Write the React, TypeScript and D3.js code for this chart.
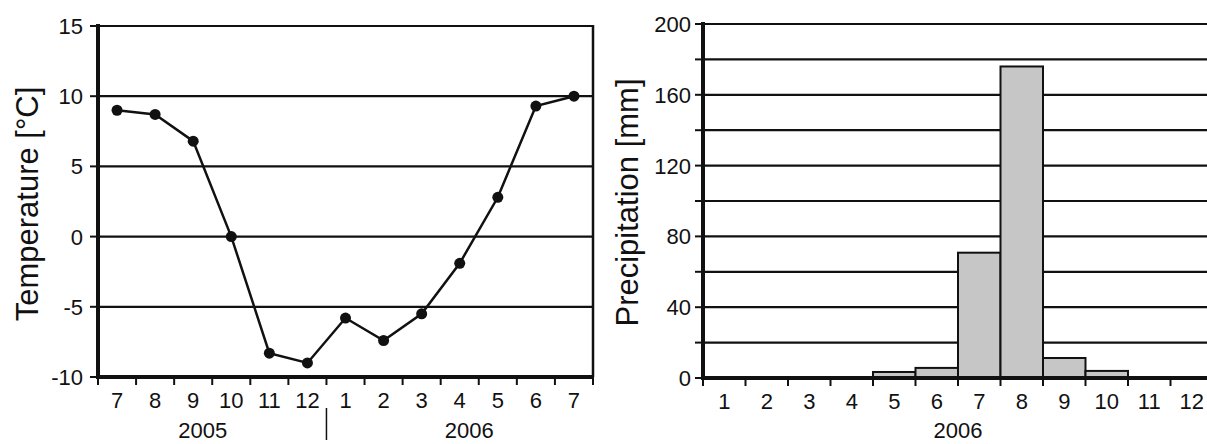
import React, { useEffect, useRef } from 'react';
import * as d3 from 'd3';

// temperature, Jul 2005 - Jul 2006
const tempMonths = ['7', '8', '9', '10', '11', '12', '1', '2', '3', '4', '5', '6', '7'];
const tempValues = [9.0, 8.7, 6.8, 0, -8.3, -9.0, -5.8, -7.4, -5.5, -1.9, 2.8, 9.3, 10.0];
const tempTicks = [-10, -5, 0, 5, 10, 15];
const tempYears = [
  { label: '2005', at: 2.75 },
  { label: '2006', at: 9.75 },
];

// precipitation, 2006
const precipMonths = ['1', '2', '3', '4', '5', '6', '7', '8', '9', '10', '11', '12'];
const precipValues = [0, 0, 0, 0, 3.4, 5.7, 70.8, 176, 11.3, 4, 0, 0];
const precipTicks = [0, 40, 80, 120, 160, 200];
const precipGrid = [20, 40, 60, 80, 100, 120, 140, 160, 180, 200];
const precipYear = '2006';

const W = 1207;
const H = 444;
const FONT = '"Liberation Sans", Arial, sans-serif';
const INK = '#111';

const App = () => {
  const ref = useRef<SVGSVGElement>(null);

  useEffect(() => {
    const svg = d3.select(ref.current);
    svg.selectAll('*').remove();
    drawTemperature(svg.append('g'));
    drawPrecip(svg.append('g'));
  }, []);

  function drawTemperature(g: any) {
    const x = d3.scaleBand<number>()
      .domain(d3.range(tempMonths.length))
      .range([98, 593])
      .padding(0);
    const y = d3.scaleLinear().domain([-10, 15]).range([377, 26]);
    const bw = x.bandwidth();
    const frac = d3.scaleLinear().domain([0, tempMonths.length]).range(x.range());

    // gridlines
    g.selectAll('line.grid')
      .data(tempTicks.filter((t) => t > -10))
      .enter()
      .append('line')
      .attr('x1', 98).attr('x2', 593)
      .attr('y1', (d) => y(d)).attr('y2', (d) => y(d))
      .attr('stroke', INK).attr('stroke-width', 2.2);

    // right border
    g.append('line')
      .attr('x1', 593).attr('x2', 593)
      .attr('y1', y(15) - 1).attr('y2', y(-10))
      .attr('stroke', INK).attr('stroke-width', 2.5);

    // y ticks + labels
    g.selectAll('line.yt')
      .data(tempTicks)
      .enter()
      .append('line')
      .attr('x1', 90).attr('x2', 98)
      .attr('y1', (d) => y(d)).attr('y2', (d) => y(d))
      .attr('stroke', INK).attr('stroke-width', 2);
    g.selectAll('text.yl')
      .data(tempTicks)
      .enter()
      .append('text')
      .attr('x', 83)
      .attr('y', (d) => y(d) + 8)
      .attr('text-anchor', 'end')
      .style('font-size', '22px')
      .style('font-family', FONT)
      .style('fill', INK)
      .text((d) => d);

    // x ticks + labels
    g.selectAll('line.xt')
      .data(d3.range(tempMonths.length + 1))
      .enter()
      .append('line')
      .attr('x1', (d) => frac(d)).attr('x2', (d) => frac(d))
      .attr('y1', 377).attr('y2', 385)
      .attr('stroke', INK).attr('stroke-width', 2);
    g.selectAll('text.xl')
      .data(tempMonths)
      .enter()
      .append('text')
      .attr('x', (_, i) => x(i) + bw / 2)
      .attr('y', 408)
      .attr('text-anchor', 'middle')
      .style('font-size', '22px')
      .style('font-family', FONT)
      .style('fill', INK)
      .text((d) => d);

    // year separator + labels
    g.append('line')
      .attr('x1', frac(6)).attr('x2', frac(6))
      .attr('y1', 408).attr('y2', 440)
      .attr('stroke', INK).attr('stroke-width', 1.5);
    g.selectAll('text.yr')
      .data(tempYears)
      .enter()
      .append('text')
      .attr('x', (d) => frac(d.at))
      .attr('y', 438)
      .attr('text-anchor', 'middle')
      .style('font-size', '22px')
      .style('font-family', FONT)
      .style('fill', INK)
      .text((d) => d.label);

    // axes
    g.append('line')
      .attr('x1', 98).attr('x2', 98).attr('y1', 24).attr('y2', 379)
      .attr('stroke', INK).attr('stroke-width', 4);
    g.append('line')
      .attr('x1', 96).attr('x2', 594).attr('y1', 377).attr('y2', 377)
      .attr('stroke', INK).attr('stroke-width', 4);

    // line + points
    const line = d3.line<number>()
      .x((_, i) => x(i) + bw / 2)
      .y((d) => y(d));
    g.append('path')
      .datum(tempValues)
      .attr('d', line)
      .attr('fill', 'none')
      .attr('stroke', INK)
      .attr('stroke-width', 2.5);
    g.selectAll('circle')
      .data(tempValues)
      .enter()
      .append('circle')
      .attr('cx', (_, i) => x(i) + bw / 2)
      .attr('cy', (d) => y(d))
      .attr('r', 5.5)
      .attr('fill', INK);

    // axis title
    g.append('text')
      .attr('transform', `translate(38, ${(78 + 330) / 2}) rotate(-90)`)
      .attr('text-anchor', 'middle')
      .style('font-size', '31px')
      .style('font-family', FONT)
      .style('fill', INK)
      .text('Temperature [°C]');
  }

  function drawPrecip(g: any) {
    const x = d3.scaleBand<string>()
      .domain(precipMonths)
      .range([703, 1213])
      .padding(0);
    const y = d3.scaleLinear().domain([0, 200]).range([378, 24]);
    const bw = x.bandwidth();

    // gridlines
    g.selectAll('line.grid')
      .data(precipGrid)
      .enter()
      .append('line')
      .attr('x1', 703).attr('x2', W)
      .attr('y1', (d) => y(d)).attr('y2', (d) => y(d))
      .attr('stroke', INK).attr('stroke-width', 2.2);

    // bars
    g.selectAll('rect')
      .data(precipValues)
      .enter()
      .append('rect')
      .attr('x', (_, i) => x(precipMonths[i]))
      .attr('y', (d) => y(d))
      .attr('width', bw)
      .attr('height', (d) => y(0) - y(d))
      .attr('fill', '#c6c6c6')
      .attr('stroke', INK)
      .attr('stroke-width', 2);

    // y ticks (major + minor) + labels
    g.selectAll('line.yt')
      .data([0, ...precipGrid])
      .enter()
      .append('line')
      .attr('x1', 695).attr('x2', 703)
      .attr('y1', (d) => y(d)).attr('y2', (d) => y(d))
      .attr('stroke', INK).attr('stroke-width', 2);
    g.selectAll('text.yl')
      .data(precipTicks)
      .enter()
      .append('text')
      .attr('x', 691)
      .attr('y', (d) => y(d) + 8)
      .attr('text-anchor', 'end')
      .style('font-size', '22px')
      .style('font-family', FONT)
      .style('fill', INK)
      .text((d) => d);

    // x ticks + labels
    g.selectAll('line.xt')
      .data(d3.range(precipMonths.length + 1))
      .enter()
      .append('line')
      .attr('x1', (d) => 703 + d * bw).attr('x2', (d) => 703 + d * bw)
      .attr('y1', 378).attr('y2', 386)
      .attr('stroke', INK).attr('stroke-width', 2);
    g.selectAll('text.xl')
      .data(precipMonths)
      .enter()
      .append('text')
      .attr('x', (d) => x(d) + bw / 2)
      .attr('y', 409)
      .attr('text-anchor', 'middle')
      .style('font-size', '22px')
      .style('font-family', FONT)
      .style('fill', INK)
      .text((d) => d);

    g.append('text')
      .attr('x', 703 + 6 * bw)
      .attr('y', 438)
      .attr('text-anchor', 'middle')
      .style('font-size', '22px')
      .style('font-family', FONT)
      .style('fill', INK)
      .text(precipYear);

    // axes
    g.append('line')
      .attr('x1', 703).attr('x2', 703).attr('y1', 22).attr('y2', 380)
      .attr('stroke', INK).attr('stroke-width', 4);
    g.append('line')
      .attr('x1', 701).attr('x2', W).attr('y1', 378).attr('y2', 378)
      .attr('stroke', INK).attr('stroke-width', 4);

    g.append('text')
      .attr('transform', `translate(638, ${(77 + 328) / 2}) rotate(-90)`)
      .attr('text-anchor', 'middle')
      .style('font-size', '31px')
      .style('font-family', FONT)
      .style('fill', INK)
      .text('Precipitation [mm]');
  }

  return (
    <svg
      ref={ref}
      width={W}
      height={H}
      style={{ position: 'absolute', left: 0, top: 0, background: '#fff' }}
    />
  );
};

export default App;
